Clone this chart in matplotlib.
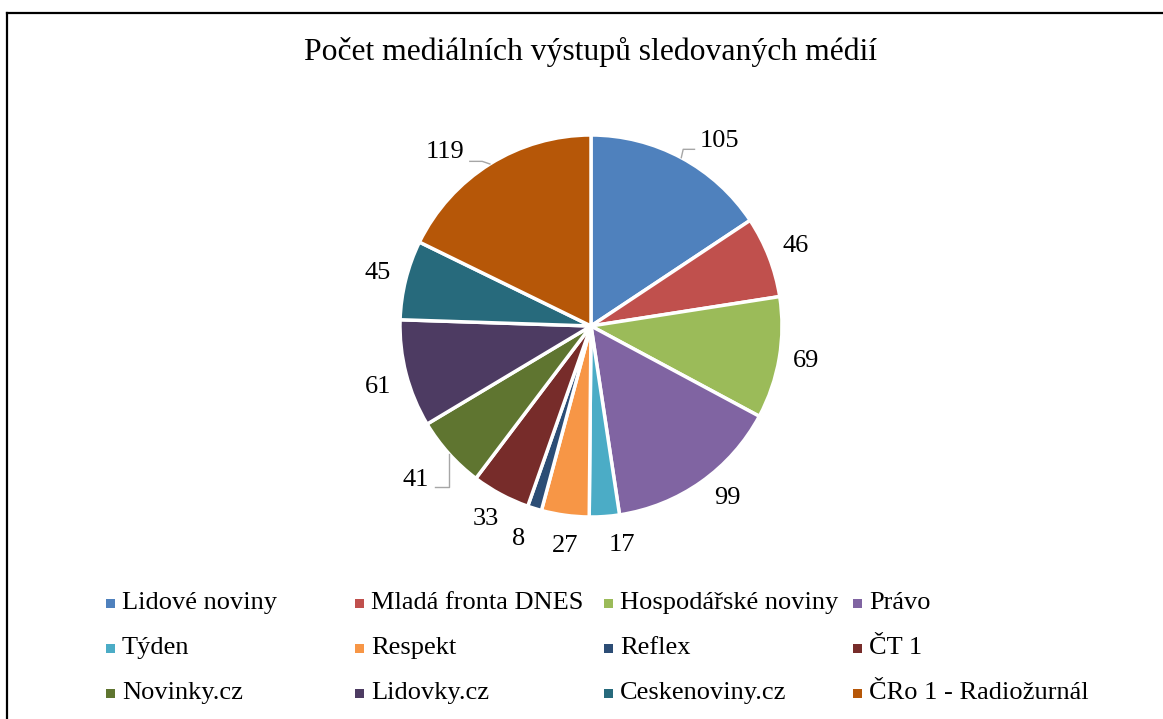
import numpy as np
import matplotlib
matplotlib.use("Agg")
import matplotlib.pyplot as plt
from matplotlib.lines import Line2D
from matplotlib.patches import Rectangle

plt.rcParams['font.family'] = ['Liberation Serif', 'DejaVu Serif']

title = "Počet mediálních výstupů sledovaných médií"
media = ["Lidové noviny", "Mladá fronta DNES", "Hospodářské noviny", "Právo",
         "Týden", "Respekt", "Reflex", "ČT 1",
         "Novinky.cz", "Lidovky.cz", "Ceskenoviny.cz", "ČRo 1 - Radiožurnál"]
vystupy = [105, 46, 69, 99, 17, 27, 8, 33, 41, 61, 45, 119]
barvy = ["#4F81BD", "#C0504D", "#9BBB59", "#8064A2",
         "#4BACC6", "#F79646", "#2C4D75", "#772C2A",
         "#5F7530", "#4D3B62", "#276A7C", "#B65708"]

W, H = 1163, 719
fig = plt.figure(figsize=(W / 100, H / 100), dpi=100)

# ramecek (jen horni a leva strana jsou videt)
fig.add_artist(Line2D([7 / W, 1.0], [1 - 13 / H, 1 - 13 / H], color='black', lw=1.6))
fig.add_artist(Line2D([7 / W, 7 / W], [1 - 13 / H, 0.0], color='black', lw=1.6))

fig.text(591 / W, 1 - 52 / H, title, ha='center', va='center', fontsize=22.8)

# kolac
cx, cy, r = 591, 326, 191
ax = fig.add_axes([(cx - r) / W, (H - cy - r) / H, 2 * r / W, 2 * r / H])
wedges, _ = ax.pie(vystupy, colors=barvy, startangle=90, counterclock=False,
                   radius=1.0, wedgeprops=dict(edgecolor='white', linewidth=2.5))
ax.set_xlim(-1, 1)
ax.set_ylim(-1, 1)
ax.set_axis_off()

# posun popisku: (uhel ve stupnich, vzdalenost)
posun = {0: (-6.5, 1.18), 1: (0, 1.15), 2: (0.5, 1.14), 3: (3.3, 1.15),
         4: (4, 1.16), 5: (1, 1.16), 6: (-1.6, 1.18), 7: (-0.5, 1.15),
         8: (-0.6, 1.22), 9: (1.5, 1.16), 10: (0, 1.15), 11: (8, 1.19)}
vodici = {0: 'up', 8: 'down', 11: 'left'}
for i, (w, v) in enumerate(zip(wedges, vystupy)):
    mid = np.deg2rad((w.theta1 + w.theta2) / 2)
    d_ang, dist = posun[i]
    a = mid + np.deg2rad(d_ang)
    tx, ty = dist * np.cos(a), dist * np.sin(a)
    ax.text(tx, ty, str(v), ha='center', va='center', fontsize=19, clip_on=False)
    if i in vodici:
        ex, ey = np.cos(mid), np.sin(mid)
        if vodici[i] == 'up':
            ax.plot([ex, ex + 0.01, tx - 0.13], [ey, ty - 0.045, ty - 0.045],
                    color='#a6a6a6', lw=1.0, clip_on=False)
        elif vodici[i] == 'down':
            ax.plot([ex, ex, tx + 0.1], [ey, ty - 0.04, ty - 0.04],
                    color='#a6a6a6', lw=1.0, clip_on=False)
        else:
            ax.plot([ex, ex - 0.04, tx + 0.13], [ey, ty - 0.05, ty - 0.05],
                    color='#a6a6a6', lw=1.0, clip_on=False)

# legenda po radcich, 4 sloupce
for i, (name, c) in enumerate(zip(media, barvy)):
    row, col = divmod(i, 4)
    mx = 106 + col * 249
    my = 603 + row * 45
    fig.add_artist(Rectangle((mx / W, 1 - (my + 4.5) / H), 9 / W, 9 / H,
                             facecolor=c, edgecolor='none', transform=fig.transFigure))
    fig.text((mx + 16) / W, 1 - my / H, name, ha='left', va='center', fontsize=19)

fig.savefig("out.png", dpi=100)
